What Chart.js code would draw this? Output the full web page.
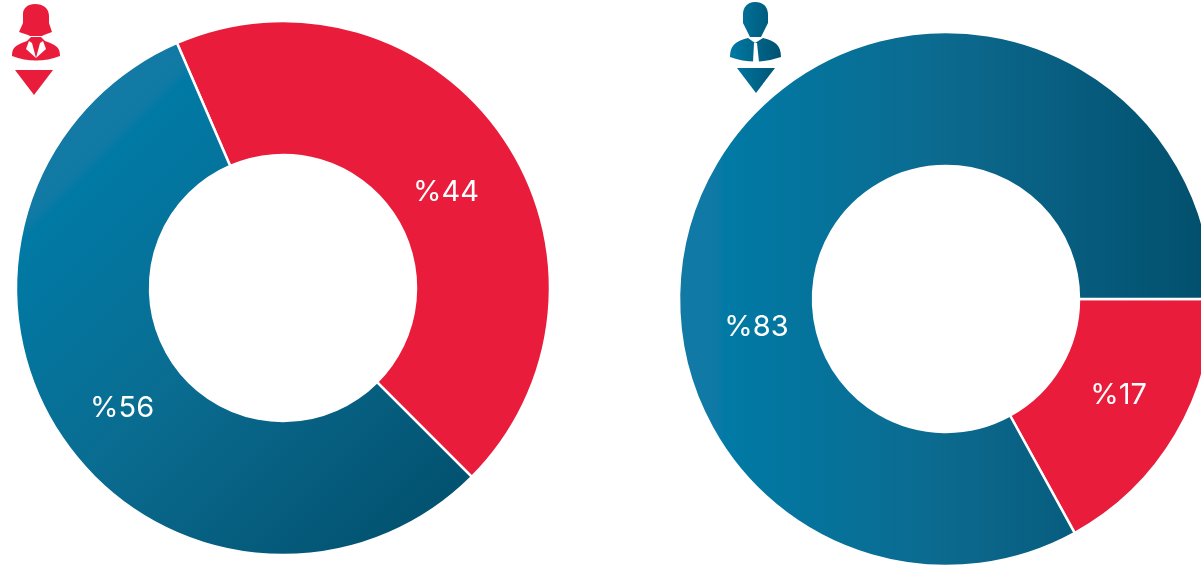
<!DOCTYPE html>
<html><head><meta charset="utf-8">
<script src="https://cdn.jsdelivr.net/npm/chart.js@4"></script>
<style>
html,body{margin:0;padding:0;background:#fff;overflow:hidden;width:1201px;height:567px}
#wrap{position:relative;width:1201px;height:567px;overflow:hidden}
canvas{position:absolute}
svg{position:absolute;left:0;top:0}
</style></head><body>
<div id="wrap">
<canvas id="c1" width="566" height="576" style="left:0;top:0;width:566px;height:576px"></canvas>
<canvas id="c2" width="560" height="598" style="left:666px;top:0;width:560px;height:598px"></canvas>
<svg width="1201" height="567" viewBox="0 0 1201 567">
<defs><linearGradient id="mg" gradientUnits="userSpaceOnUse" x1="730" y1="0" x2="782" y2="0"><stop offset="0" stop-color="#007aa5"/><stop offset="1" stop-color="#00506e"/></linearGradient></defs>
<path fill="#e91d3b" d="M35 4C43 4 49 8 49 16L49 23L52 32L44 35L42 36H30L28 35L19 32L23 23L23 14C23 8 28 4 35 4Z"/>
<path fill="#e91d3b" d="M12 56C12 48 15 45 27 41L31 37H41L45 41C57 45 60 48 60 56Q36 65 12 56Z"/>
<path fill="#fff" d="M29 41L26 49L36 58L32 43ZM43 41L46 49L36 58L40 43Z"/>
<path fill="#e91d3b" d="M15 70H53L34 95Z"/>
<path fill="url(#mg)" d="M755 2C764 2 768 8 768 15L768 23L765 29L761 37L750 37L746 29L743 23L743 14C743 8 747 2 755 2Z"/>
<path fill="url(#mg)" d="M730 57C730 46 735 41 748 38L755 43L763 38C776 41 781 46 781 57Q755 66 730 57Z"/>
<path fill="#fff" d="M754 43H757L759 62H753Z"/>
<path fill="url(#mg)" d="M737 68H775L756 93Z"/>
</svg>
</div>
<script>
const categories1 = ["Kırmızı", "Mavi"];
const values1 = [44, 56];
const labels1 = ["%44", "%56"];
const categories2 = ["Kırmızı", "Mavi"];
const values2 = [17, 83];
const labels2 = ["%17", "%83"];

const RED = "#e91d3b";
function grad1(ctx){
  const g = ctx.chart.ctx.createLinearGradient(20,20,540,540);
  g.addColorStop(0,"#157aa5"); g.addColorStop(0.2,"#117aa4"); g.addColorStop(0.215,"#007aa5");
  g.addColorStop(0.5,"#0a6c91"); g.addColorStop(0.9,"#02506e"); g.addColorStop(1,"#02506e");
  return g;
}
function grad2(ctx){
  const g = ctx.chart.ctx.createLinearGradient(14,0,535,0);
  g.addColorStop(0,"#1279a5"); g.addColorStop(0.07,"#0f79a5"); g.addColorStop(0.085,"#007aa5");
  g.addColorStop(0.5,"#0c6a8f"); g.addColorStop(1,"#02506e");
  return g;
}
const textPlugin = {
  id:"arcText",
  afterDatasetsDraw(chart,args,opts){
    const c = chart.ctx, meta = chart.getDatasetMeta(0);
    c.save();
    c.fillStyle="#fff"; c.textAlign="center"; c.textBaseline="middle";
    c.font='400 29px Inter, "Open Sans", sans-serif';
    meta.data.forEach((arc,i)=>{
      const p = arc.tooltipPosition();
      c.fillText(opts.texts[i], p.x+opts.shift[i][0], p.y+opts.shift[i][1]);
    });
    c.restore();
  }
};
function make(id,cats,vals,fill,rot,texts,shift){
  return new Chart(document.getElementById(id),{
    type:"doughnut",
    data:{labels:cats,datasets:[{data:vals,backgroundColor:ctx=>ctx.dataIndex===0?RED:fill(ctx),
      borderColor:"#fff",borderWidth:2.5,radius:267,cutout:"49.8%"}]},
    options:{responsive:false,animation:false,rotation:rot,
      layout:{padding:0},
      plugins:{legend:{display:false},tooltip:{enabled:false},arcText:{texts,shift}}},
    plugins:[textPlugin]
  });
}
make("c1",categories1,values1,grad1,-23.4,labels1,[[-2.5,16.7],[4.5,8.3]]);
make("c2",categories2,values2,grad2,90,labels2,[[0.4,-5.5],[-17.4,130.5]]);
</script>
</body></html>
